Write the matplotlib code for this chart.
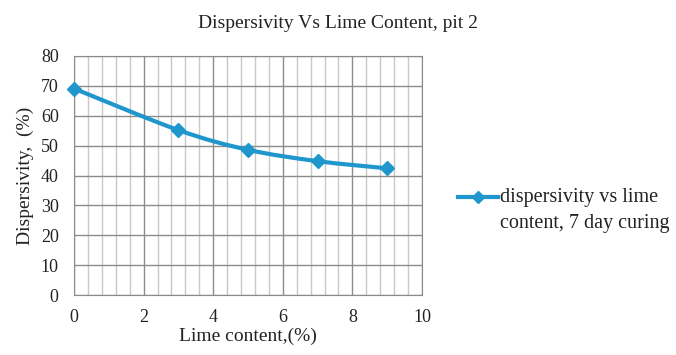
import matplotlib.pyplot as plt
from matplotlib.path import Path
from matplotlib.patches import PathPatch
from matplotlib.lines import Line2D
import numpy as np

plt.rcParams['font.family'] = ['Liberation Serif', 'DejaVu Serif']

lime = [0, 3, 5, 7, 9]
dispersivity = [69.1, 55.2, 48.6, 44.8, 42.4]
series_label = 'dispersivity vs lime\ncontent, 7 day curing'
color = '#1f97cc'
text_color = '#222222'

fig = plt.figure(figsize=(6.76, 3.55), dpi=100)
ax = fig.add_axes([74 / 676, 1 - 295 / 355, 348 / 676, 239 / 355])

# smoothed line: cardinal spline through the points as cubic Bezier segments
pts = np.column_stack([lime, dispersivity])
n = len(pts)
verts = [pts[0]]
codes = [Path.MOVETO]
t = 1 / 6
for i in range(n - 1):
    p0 = pts[max(i - 1, 0)]
    p1 = pts[i]
    p2 = pts[i + 1]
    p3 = pts[min(i + 2, n - 1)]
    c1 = p1 + (p2 - p0) * t
    c2 = p2 - (p3 - p1) * t
    verts += [c1, c2, p2]
    codes += [Path.CURVE4] * 3
ax.add_patch(PathPatch(Path(verts, codes), fill=False, edgecolor=color,
                       lw=3, capstyle='round', zorder=3))
ax.plot(lime, dispersivity, ls='none', marker='D', ms=7.5, color=color,
        zorder=4, clip_on=False)

ax.set_xlim(0, 10)
ax.set_ylim(0, 80)
ax.set_xticks(np.arange(0, 11, 2))
ax.set_xticks(np.arange(0, 10.01, 0.4), minor=True)
ax.set_yticks(np.arange(0, 81, 10))
ax.grid(which='major', color='#8c8c8c', lw=1)
ax.grid(which='minor', axis='x', color='#c8c8c8', lw=1)
ax.set_axisbelow(True)
ax.tick_params(which='both', length=0, labelsize=13, colors=text_color)
ax.tick_params(axis='x', pad=10)
ax.tick_params(axis='y', pad=11)
for s in ax.spines.values():
    s.set_color('#8c8c8c')

# title is centred on the whole figure, not on the axes
fig.text(0.5, 1 - 28 / 355, 'Dispersivity Vs Lime Content, pit 2',
         fontsize=14, color=text_color, ha='center', va='baseline')
ax.set_xlabel('Lime content,(%)', fontsize=14, color=text_color, labelpad=1)
ax.set_ylabel('Dispersivity,  (%)', fontsize=14, color=text_color, labelpad=5)

# legend entry: key line level with the first text line
key_y = 1 - 197 / 355
fig.add_artist(Line2D([458 / 676, 498 / 676], [key_y, key_y], color=color,
                      lw=3, transform=fig.transFigure))
fig.add_artist(Line2D([478 / 676], [key_y], color=color, marker='D', ms=6.5,
                      transform=fig.transFigure))
fig.text(500 / 676, 1 - 228 / 355, series_label, fontsize=14.5,
         color=text_color, va='baseline', ha='left', linespacing=1.5)

fig.savefig('out.png', dpi=100)
